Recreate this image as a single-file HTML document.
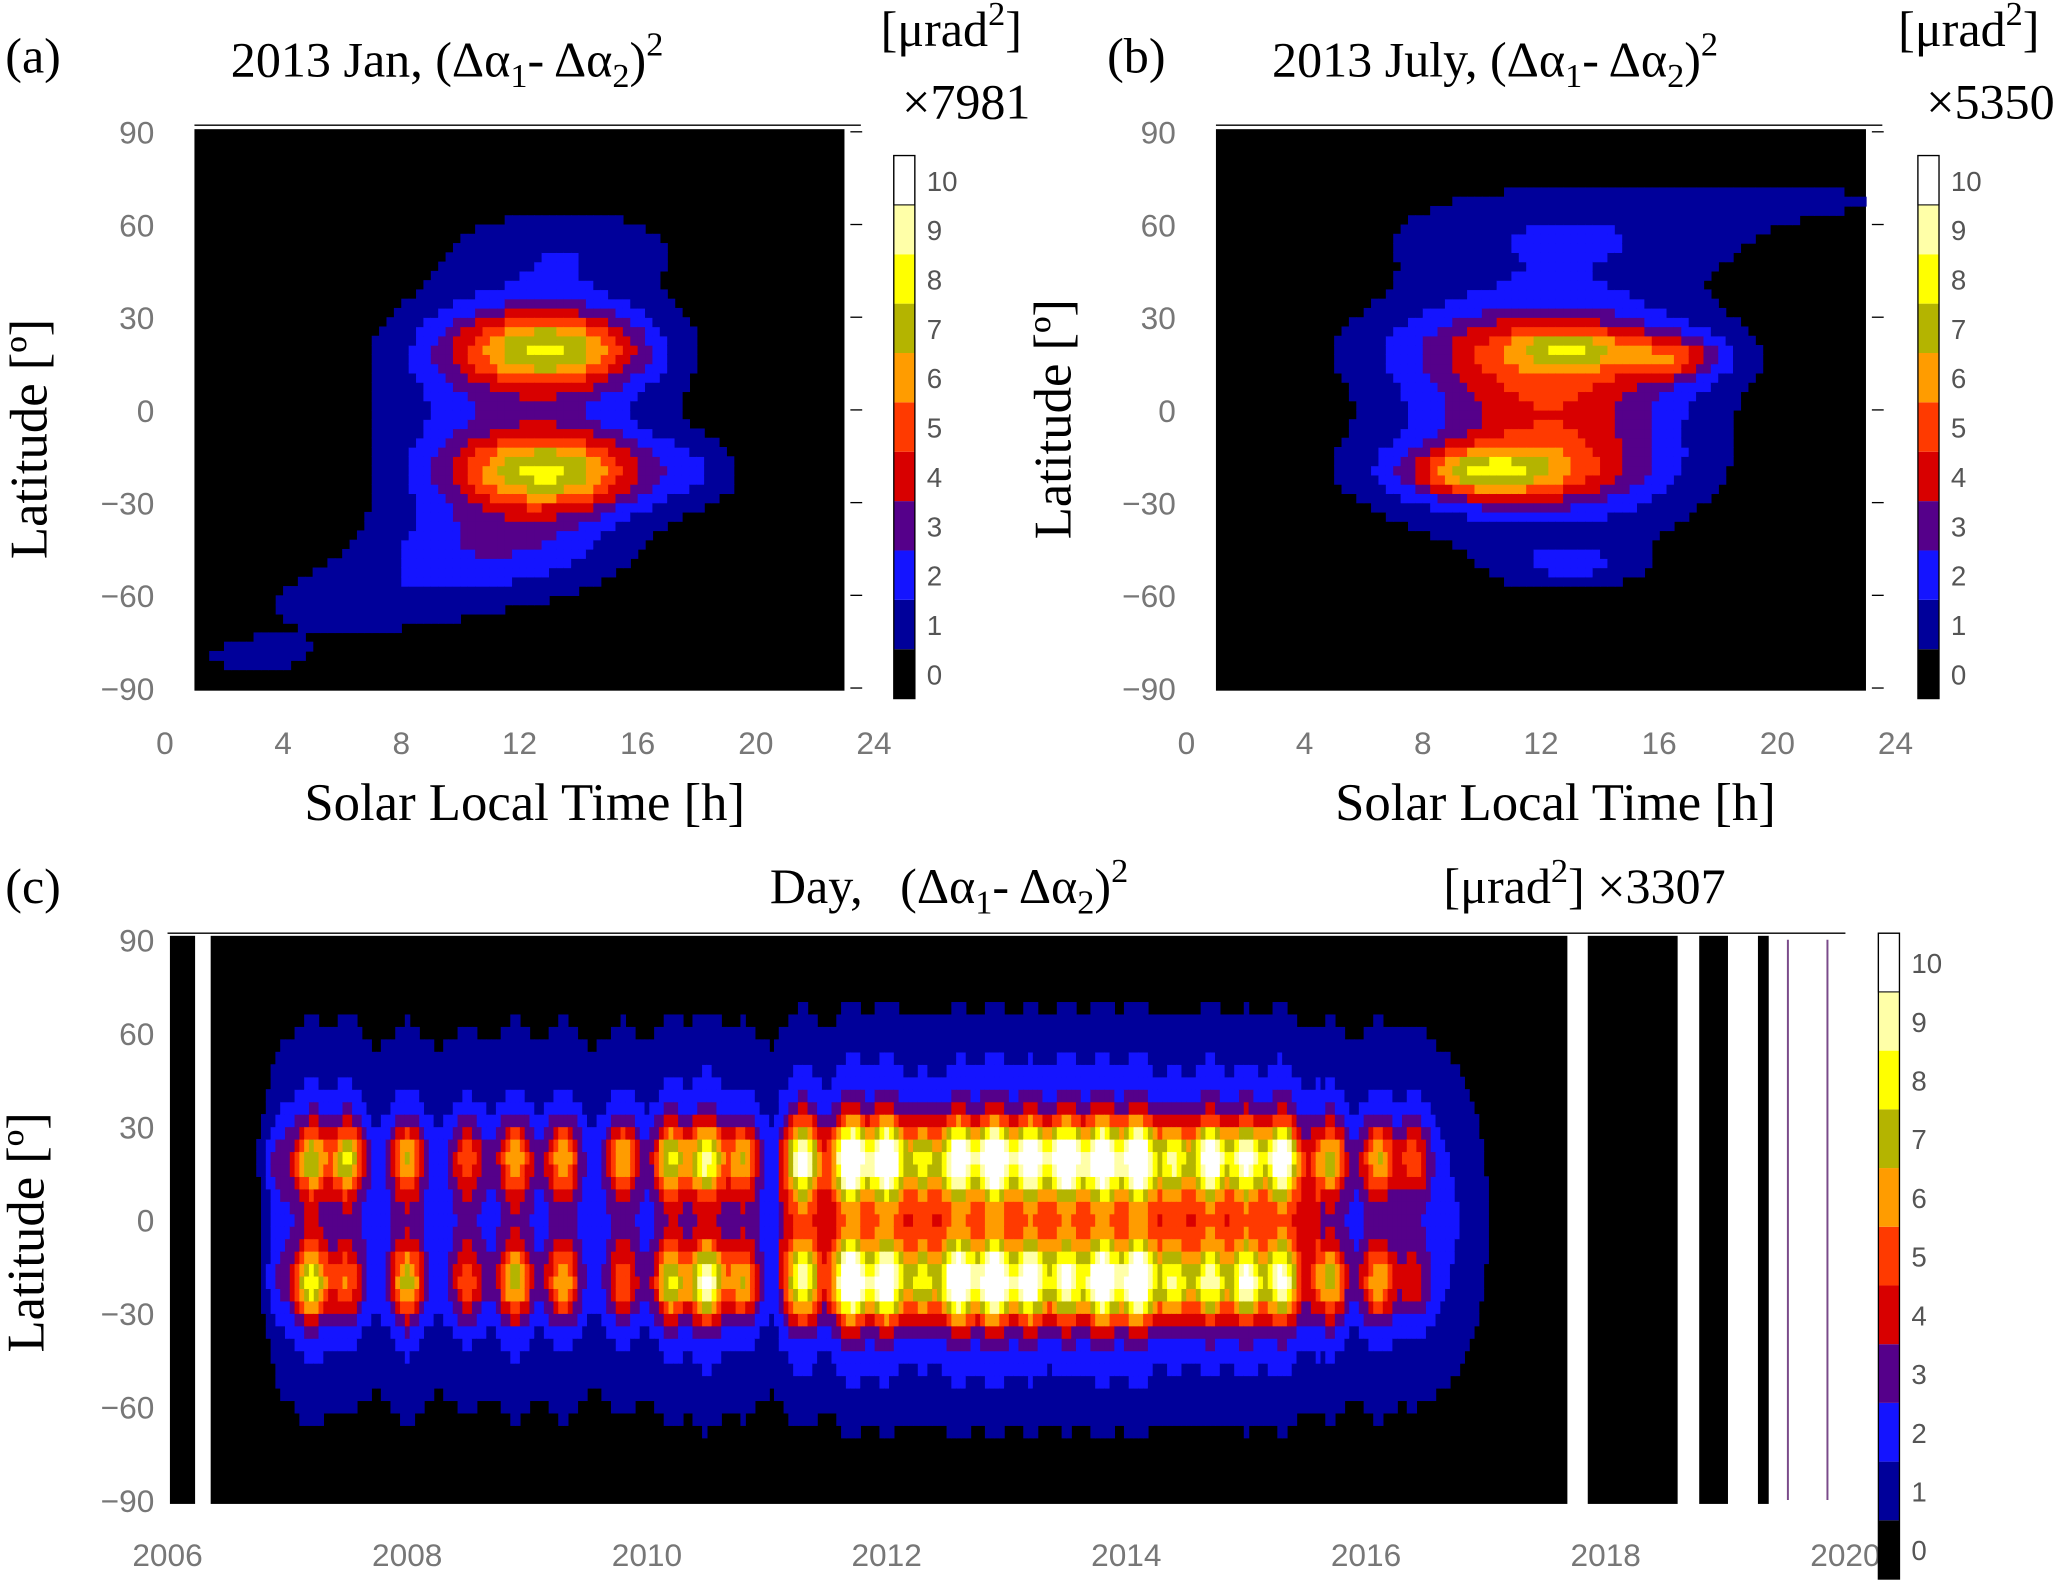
<!DOCTYPE html>
<html><head><meta charset="utf-8">
<style>
html,body{margin:0;padding:0;background:#fff;}
svg{display:block;}
.tk{font-family:"Liberation Sans","DejaVu Sans",sans-serif;font-size:24px;fill:#777;}
.cb{font-family:"Liberation Sans","DejaVu Sans",sans-serif;font-size:21px;fill:#555;}
.ti{font-family:"Liberation Serif",serif;font-size:38px;fill:#000;}
.ax{font-family:"Liberation Serif",serif;font-size:40px;fill:#000;}
</style></head>
<body>
<svg id="fig" width="2067" height="1583" viewBox="0 0 1568 1201" xmlns="http://www.w3.org/2000/svg">
<g id="root"></g>
</svg>
<script>
// ---- data ----
const levelColors = ["#000000","#00009a","#1414ff","#55008a","#d80000","#ff3a00","#ff9c00","#b4b400","#ffff00","#ffffa8","#ffffff"];
const levelLabels = ["0","1","2","3","4","5","6","7","8","9","10"];
const sltTicks = [0,4,8,12,16,20,24];
const latTicks = [90,60,30,0,-30,-60,-90];
const yearTicks = [2006,2008,2010,2012,2014,2016,2018,2020];
// blobs: [time, lat, sigmaT, sigmaLat, amplitude]
const blobsA = [[12,0,3.5,33,2.6],[13,20,2.3,9,6.2],[13,-20,2.3,9,6.2],[11,-45,3,10,2],[6.5,-62,3,9,1.4],[3,-80,2,6,1.2],[14,52,2.8,10,1.3],[18,-20,1.2,8,1.2]];
const blobsB = [[12,5,4.5,40,2.2],[12.5,0,2.8,20,2.5],[12,20,3.5,9,2.5],[11,-20,3,8,3],[10,-20,1.5,5,3],[16.5,17,1.2,5,3],[13,20,1.2,4,2.5],[14,58,5,10,1.2],[21,68,3,5,1.0],[13,-50,1.5,5,1.5]];
// day series events: year, amplitude at +20, amplitude at -20
const evYear = [2006.9,2007.2,2007.5,2008.0,2008.5,2008.9,2009.3,2009.8,2010.2,2010.5,2010.8,2011.3,2011.7,2012.0,2012.3,2012.6,2012.9,2013.2,2013.5,2013.8,2014.1,2014.4,2014.7,2015.0,2015.3,2015.7,2016.1,2016.4,2017.6];
const evNorth = [1.5,4.5,5,4,3,4,4,4,5,6,4,6.5,8,8,4.5,7,8,7,8,8,8,5,7,6,7,4.5,4,3,1.5];
const evSouth = [1,5.5,3,4.5,3,4.5,4,3,5,6.5,4,5.5,8,7,4.5,8,8,7,6,8,8,5,5.5,6,6,4.5,4,2,1.5];

const NS="http://www.w3.org/2000/svg";
const root=document.getElementById('root');
function el(tag,attrs,parent,text){const e=document.createElementNS(NS,tag);for(const k in attrs)e.setAttribute(k,attrs[k]);if(text!==undefined)e.textContent=text;(parent||root).appendChild(e);return e;}
function lvl(v){return Math.max(0,Math.min(10,Math.floor(v)));}

function panelSLT(cfg){
  const g=el('g',{});
  
  
  const X=t=>cfg.x0+(cfg.x1-cfg.x0)*t/24;
  const Y=l=>cfg.y0+(cfg.y1-cfg.y0)*(90-l)/180;
  const bg=el('rect',{x:X(1),y:Y(90)-2,width:X(23)-X(1),height:Y(-90)-Y(90)+4,fill:'#000'},g);
  
  const dt=0.25,dl=3;
  for(let t=1;t<23;t+=dt){for(let l=-90;l<90;l+=dl){
    const tc=t+dt/2,lc=l+dl/2;let v=0;
    for(const b of cfg.blobs){v+=b[4]*Math.exp(-((tc-b[0])**2)/(2*b[2]*b[2])-((lc-b[1])**2)/(2*b[3]*b[3]));}
    const k=lvl(v);if(k===0)continue;
    const r=el('rect',{x:X(t),y:Y(l+dl),width:X(t+dt)-X(t)+0.5,height:Y(l)-Y(l+dl)+0.5,fill:levelColors[k]},g);
    
  }}
  el('line',{x1:X(1),y1:Y(90)-5,x2:X(24)-10,y2:Y(90)-5,stroke:'#000','stroke-width':1},g);
  for(const t of sltTicks){const tx=el('text',{x:X(t),y:cfg.y1+50,class:'tk','text-anchor':'middle'},g,String(t));}
  for(const l of latTicks){const tx=el('text',{x:cfg.x0-8,y:Y(l)+9,class:'tk','text-anchor':'end'},g,(l<0?'\u2212':'')+Math.abs(l));
    el('line',{x1:X(23.2),y1:Y(l),x2:X(23.6),y2:Y(l),stroke:'#000'},g);}
  colorbar(g,cfg.cbx,118,530);
  return {g,X,Y};
}
function colorbar(g,x,yTop,yBot){
  const cb=el('g',{},g);
  const h=(yBot-yTop)/11;
  for(let i=0;i<11;i++){const r=el('rect',{x:x,y:yBot-(i+1)*h,width:16,height:h,fill:levelColors[i],stroke:i===10?'#000':'none','stroke-width':0.8},cb);
    const t=el('text',{x:x+25,y:yBot-(i+0.5)*h+8,class:'cb'},cb,levelLabels[i]);}
  el('rect',{x:x,y:yTop,width:16,height:yBot-yTop,fill:'none',stroke:'#000','stroke-width':1},cb);
}
function title(x,y,pre,g){
  const t=el('text',{x:x,y:y,class:'ti'},g);
  t.innerHTML=pre+'(\u0394\u03b1<tspan font-size="26" dy="8">1</tspan><tspan dy="-8">- \u0394\u03b1</tspan><tspan font-size="26" dy="8">2</tspan><tspan dy="-8">)</tspan><tspan font-size="26" dy="-16">2</tspan>';
  
}
function unit(x,y,txt,g){
  const t=el('text',{x:x,y:y,class:'ti'},g);
  t.innerHTML='[\u03bcrad<tspan font-size="26" dy="-16">2</tspan><tspan dy="16">]'+txt+'</tspan>';
  
}
function txt(x,y,s,cls,name,rot){const a={x:x,y:y,class:cls,'text-anchor':'middle'};if(rot)a.transform='rotate(-90 '+x+' '+y+')';const t=el('text',a,root,s);return t;}

// Panel a
const A=panelSLT({name:'panel-a',x0:125,x1:663,y0:100,y1:522,blobs:blobsA,cbx:678});
txt(25,55,'(a)','ti','panel-a-label');
title(175,58,'2013 Jan, ',A.g);
unit(668,35,'',A.g);txt(733,90,'\u00d77981','ti','scale-factor-a');
txt(398,622,'Solar Local Time [h]','ax','x-axis-title-a');
txt(35,333,'Latitude [\u00ba]','ax','y-axis-title-a',true);
// Panel b
const B=panelSLT({name:'panel-b',x0:900,x1:1438,y0:100,y1:522,blobs:blobsB,cbx:1455});
txt(862,55,'(b)','ti','panel-b-label');
title(965,58,'2013 July, ',B.g);
unit(1440,35,'',B.g);txt(1510,90,'\u00d75350','ti','scale-factor-b');
txt(1180,622,'Solar Local Time [h]','ax','x-axis-title-b');
txt(812,318,'Latitude [\u00ba]','ax','y-axis-title-b',true);

// Panel c
(function(){
  const g=el('g',{});
  const X=y=>127+(1400-127)*(y-2006)/14;
  const Y=l=>713+(1138-713)*(90-l)/180;
  const blacks=[[2006.02,2006.23],[2006.36,2017.68],[2017.85,2018.6],[2018.78,2019.02],[2019.27,2019.36]];
  for(const b of blacks){const r=el('rect',{x:X(b[0]),y:Y(90)-3,width:X(b[1])-X(b[0]),height:Y(-90)-Y(90)+6,fill:'#000'},g);}
  el('line',{x1:X(2019.52),y1:Y(90),x2:X(2019.52),y2:Y(-90),stroke:'#7a4a8a','stroke-width':1.5},g);
  el('line',{x1:X(2019.85),y1:Y(90),x2:X(2019.85),y2:Y(-90),stroke:'#7a4a8a','stroke-width':1.5},g);
  el('line',{x1:127,y1:Y(90)-5,x2:1400,y2:Y(90)-5,stroke:'#000','stroke-width':1},g);
  const dt=0.04,dl=4;
  for(let t=2006.5;t<2017.8;t+=dt){for(let l=-90;l<90;l+=dl){
    const tc=t+dt/2,lc=l+dl/2;let v=0;
    let env=1;
    if(tc<2007.0) env=Math.exp(-(((2007.0-tc)/0.2)**2));
    if(tc>2016.6) env=Math.exp(-(((tc-2016.6)/0.45)**2));
    v+=2.3*env*Math.exp(-(lc*lc)/(2*42*42));
    if(tc>2011.1&&tc<2015.6) v+=1.2*Math.exp(-(lc*lc)/(2*25*25));
    for(let i=0;i<evYear.length;i++){
      const ft=Math.exp(-((tc-evYear[i])**2)/(2*0.1*0.1));
      if(ft<0.01)continue;
      v+=evNorth[i]*ft*Math.exp(-((lc-20)**2)/(2*8*8));
      v+=evSouth[i]*ft*Math.exp(-((lc+20)**2)/(2*8*8));
      v+=0.17*evNorth[i]*ft*Math.exp(-((lc-20)**2)/(2*32*32));
      v+=0.17*evSouth[i]*ft*Math.exp(-((lc+20)**2)/(2*32*32));
    }
    if(tc<2006.7||(tc>2017.4&&tc<2017.85)||tc>2018.0)continue;
    const k=lvl(v);if(k===0)continue;
    const r=el('rect',{x:X(t),y:Y(l+dl),width:X(t+dt)-X(t)+0.5,height:Y(l)-Y(l+dl)+0.5,fill:levelColors[k]},g);
    
  }}
  for(const y of yearTicks){const t=el('text',{x:X(y),y:1188,class:'tk','text-anchor':'middle'},g,String(y));}
  for(const l of latTicks){const t=el('text',{x:117,y:Y(l)+9,class:'tk','text-anchor':'end'},g,(l<0?'\u2212':'')+Math.abs(l));}
  colorbar(g,1425,708,1198);
  title(584,685,'Day,&#160;&#160; ',g);
  unit(1095,685,' \u00d73307',g);
})();
txt(25,685,'(c)','ti','panel-c-label');
txt(33,935,'Latitude [\u00ba]','ax','y-axis-title-c',true);
</script>
</body></html>
